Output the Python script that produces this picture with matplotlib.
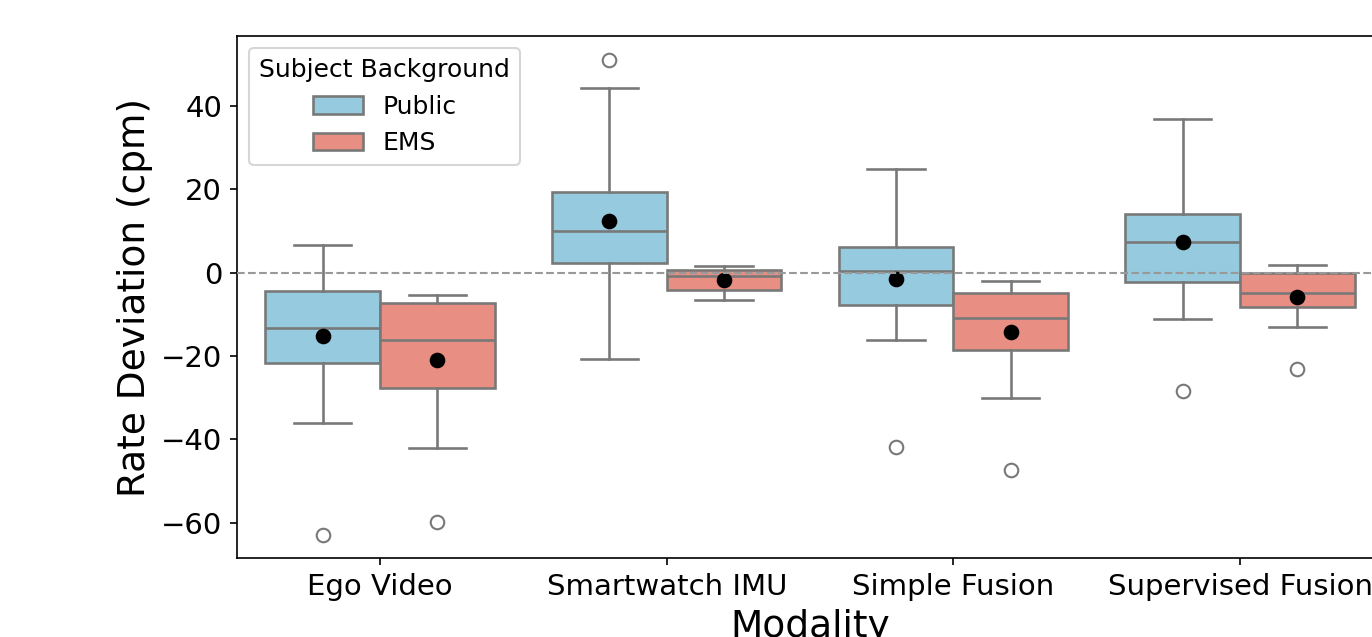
import matplotlib
matplotlib.use("Agg")
import matplotlib.pyplot as plt
from matplotlib.patches import Patch
import numpy as np

# categories and groups
modalities = ["Ego Video", "Smartwatch IMU", "Simple Fusion", "Supervised Fusion"]
groups = ["Public", "EMS"]

# box statistics (cpm), one entry per modality
public_whislo = [-36.2, -20.8, -16.3, -11.2]
public_q1     = [-21.6,   2.3,  -7.8,  -2.3]
public_med    = [-13.4,  10.0,   0.3,   7.3]
public_q3     = [ -4.5,  19.4,   6.1,  14.0]
public_whishi = [  6.6,  44.4,  24.9,  36.9]
public_mean   = [-15.3,  12.4,  -1.6,   7.4]
public_fliers = [[-62.9], [51.1], [-41.9], [-28.4]]

ems_whislo = [-42.2, -6.5, -30.2, -13.1]
ems_q1     = [-27.6, -4.1, -18.7,  -8.3]
ems_med    = [-16.3, -0.9, -10.8,  -4.9]
ems_q3     = [ -7.4,  0.6,  -5.0,  -0.1]
ems_whishi = [ -5.5,  1.7,  -2.0,   1.75]
ems_mean   = [-21.1, -1.8, -14.3,  -5.9]
ems_fliers = [[-59.9], [], [-47.4], [-23.1]]

colors = {"Public": "#95cadf", "EMS": "#e98e83"}
edge = "#787878"


def make_stats(lo, q1, med, q3, hi, mean, fliers):
    return [dict(whislo=lo[i], q1=q1[i], med=med[i], q3=q3[i], whishi=hi[i],
                 mean=mean[i], fliers=fliers[i]) for i in range(len(lo))]


stats = {
    "Public": make_stats(public_whislo, public_q1, public_med, public_q3,
                         public_whishi, public_mean, public_fliers),
    "EMS": make_stats(ems_whislo, ems_q1, ems_med, ems_q3,
                      ems_whishi, ems_mean, ems_fliers),
}

fig = plt.figure(figsize=(1372 / 150, 637 / 150), dpi=150)
ax = fig.add_axes([0.1725, 0.1235, 0.8358, 0.82])

x = np.arange(len(modalities))
offsets = {"Public": -0.2, "EMS": 0.2}
for g in groups:
    ax.bxp(stats[g], positions=x + offsets[g], widths=0.4, capwidths=0.2,
           patch_artist=True, showmeans=True, manage_ticks=False,
           boxprops=dict(facecolor=colors[g], edgecolor=edge, linewidth=1.25),
           medianprops=dict(color=edge, linewidth=1.25),
           whiskerprops=dict(color=edge, linewidth=1.25),
           capprops=dict(color=edge, linewidth=1.25),
           meanprops=dict(marker="o", markerfacecolor="black",
                          markeredgecolor="black", markersize=6.5),
           flierprops=dict(marker="o", markerfacecolor="none",
                           markeredgecolor=edge, markersize=6.5))

ax.axhline(0, color="#999999", linestyle="--", linewidth=1.0, zorder=5)

ax.set_xlim(-0.5, 3.5)
ax.set_ylim(-68.6, 56.8)
ax.set_yticks([-60, -40, -20, 0, 20, 40])
ax.set_xticks(x)
ax.set_xticklabels(modalities, fontsize=14)
ax.tick_params(axis="y", labelsize=14)
ax.set_xlabel("Modality", fontsize=18)
ax.set_ylabel("Rate Deviation (cpm)", fontsize=18)

handles = [Patch(facecolor=colors[g], edgecolor=edge, linewidth=1.25, label=g)
           for g in groups]
ax.legend(handles=handles, title="Subject Background", loc="upper left",
          fontsize=12, title_fontsize=12)

fig.savefig("out.png", dpi=150)
